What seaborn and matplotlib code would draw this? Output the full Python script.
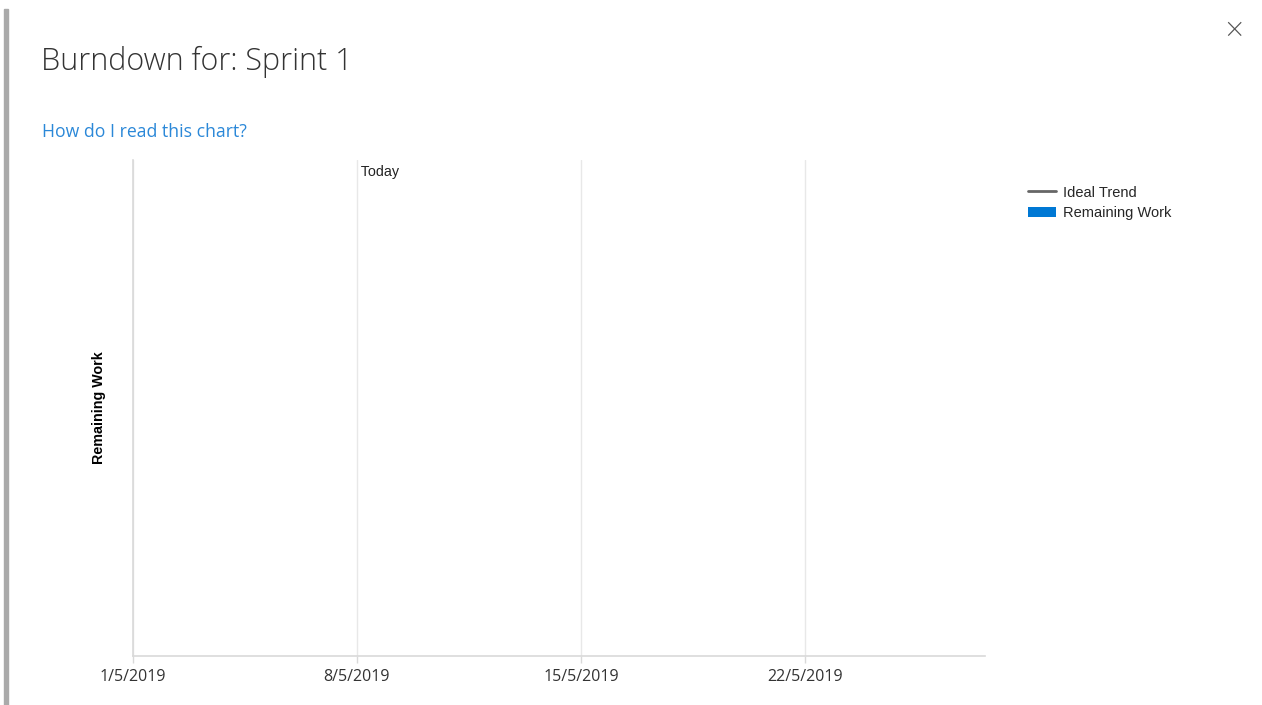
import matplotlib
matplotlib.use("Agg")
import matplotlib.pyplot as plt
from matplotlib.lines import Line2D
from matplotlib.patches import Patch, Rectangle
import seaborn as sns
import pandas as pd

# sprint data (the chart has no recorded values yet)
sprint_start = "2019-05-01"
sprint_end = "2019-05-27 15:00"
tick_dates = ["2019-05-01", "2019-05-08", "2019-05-15", "2019-05-22"]
tick_labels = ["1/5/2019", "8/5/2019", "15/5/2019", "22/5/2019"]
today = "2019-05-08"
work_dates = []
ideal_trend = []
remaining_work = []

sns.set_theme(style="white")
plt.rcParams['font.family'] = ['Open Sans', 'DejaVu Sans']

fig = plt.figure(figsize=(12.62, 7.05), dpi=100)
ax = fig.add_axes([133 / 1262, 1 - 656 / 705, (985 - 133) / 1262, (656 - 160) / 705])

df = pd.DataFrame({
    'date': pd.to_datetime(pd.Series(work_dates, dtype=object)),
    'ideal': pd.Series(ideal_trend, dtype=float),
    'remaining': pd.Series(remaining_work, dtype=float),
})
if len(df):
    ax.fill_between(df['date'], df['remaining'], color='#0078d4')
    sns.lineplot(data=df, x='date', y='ideal', color='#666666', ax=ax)

ax.set_xlim(pd.Timestamp(sprint_start), pd.Timestamp(sprint_end))
ax.set_ylim(0, 1)
ticks = pd.to_datetime(tick_dates)
ax.set_xticks(ticks)
ax.set_xticklabels(tick_labels, fontsize=11.5, color='#333333')
ax.set_yticks([])
ax.tick_params(axis='x', length=5, width=1, color='#d9d9d9', pad=4.5, bottom=True)
for t in ticks:
    ax.axvline(t, color='#e8e8e8', lw=1, zorder=0)
for side in ['top', 'right']:
    ax.spines[side].set_visible(False)
for side in ['left', 'bottom']:
    ax.spines[side].set_color('#d9d9d9')
    ax.spines[side].set_linewidth(1.2)
ax.set_xlabel('')
ax.set_ylabel('Remaining Work', fontsize=10.3, fontweight='bold', color='black',
              family=['Liberation Sans', 'DejaVu Sans'])
ax.yaxis.set_label_coords(-(133 - 106) / 852, 0.5)

ax.text(pd.Timestamp(today), 0.99, ' Today', fontsize=10.3, color='#222222',
        va='top', ha='left', family=['Liberation Sans', 'DejaVu Sans'])

# legend
handles = [Line2D([0], [0], color='#666666', lw=2),
           Patch(facecolor='#0078d4', edgecolor='none')]
fig.legend(handles, ['Ideal Trend', 'Remaining Work'], loc='upper left',
           bbox_to_anchor=(1016 / 1262, 1 - 174 / 705), frameon=False,
           prop={'family': ['Liberation Sans', 'DejaVu Sans'], 'size': 10.5},
           handlelength=1.95, handleheight=0.75, handletextpad=0.5,
           labelspacing=0.45, borderpad=0.3)

# dialog chrome
fig.text(41 / 1262, 1 - 62 / 705, 'Burndown for: Sprint 1', fontsize=22,
         fontweight='light', color='#333333', va='center', ha='left')
fig.text(42 / 1262, 1 - 132 / 705, 'How do I read this chart?', fontsize=12.7,
         color='#2b88d8', va='center', ha='left')
fig.text(1234 / 1262, 1 - 32 / 705, '\u00d7', fontsize=22, color='#555555',
         fontweight='light', va='center', ha='center')
fig.patches.append(Rectangle((4 / 1262, 0), 4 / 1262, 1 - 9 / 705,
                             transform=fig.transFigure, color='#aaaaaa', zorder=0))

fig.savefig('out.png', dpi=100, facecolor='white')
